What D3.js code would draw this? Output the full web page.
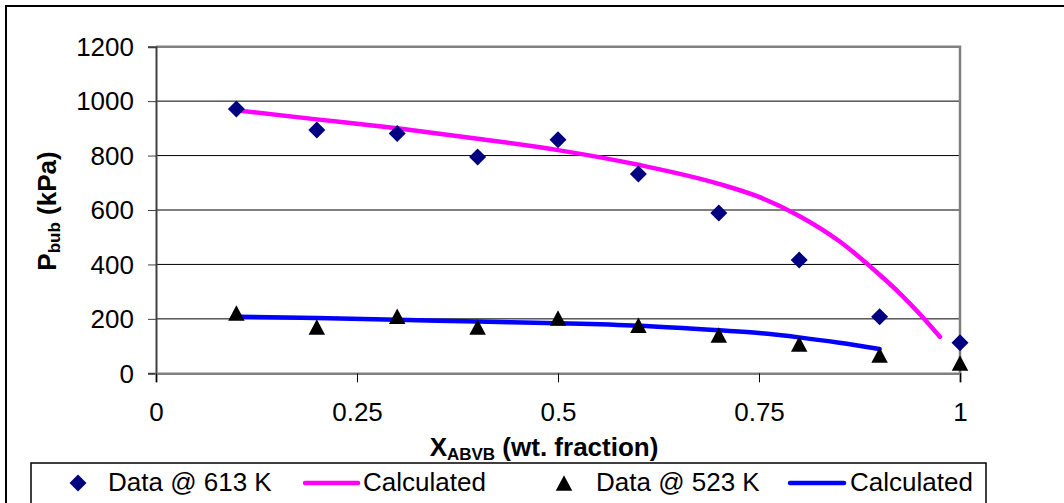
<!DOCTYPE html>
<html>
<head>
<meta charset="utf-8">
<script src="https://cdn.jsdelivr.net/npm/d3@7"></script>
<style>
  body { margin: 0; background: #fff; }
  svg { display: block; font-family: "Liberation Sans", Arial, sans-serif; }
</style>
</head>
<body>
<svg id="chart" width="1064" height="503"></svg>
<script>
// measured points
const xData = [0.1, 0.2, 0.3, 0.4, 0.5, 0.6, 0.7, 0.8, 0.9, 1.0];
const data613 = [971, 894, 881, 795, 858, 732, 589, 416, 208, 112];
const data523 = [222, 170, 210, 170, 203, 177, 141, 108, 67, 38];

// calculated curves
const xCalc613 = [0.1, 0.2, 0.3, 0.4, 0.5, 0.6, 0.7, 0.75, 0.8, 0.85, 0.9, 0.925, 0.95, 0.975];
const calc613 = [966, 933, 900, 862, 820, 766, 696, 648, 578, 485, 362, 294, 218, 134];
const xCalc523 = [0.1, 0.2, 0.3, 0.4, 0.5, 0.6, 0.7, 0.75, 0.8, 0.85, 0.9];
const calc523 = [208, 203, 197, 190, 184, 175, 158, 148, 132, 112, 89];

const xTicks = [0, 0.25, 0.5, 0.75, 1];
const yTicks = [0, 200, 400, 600, 800, 1000, 1200];

const svg = d3.select("#chart");

const plotL = 156, plotR = 960, plotT = 46.7, plotB = 373.3;
const x = d3.scaleLinear().domain([0, 1]).range([plotL, plotR]);
const y = d3.scaleLinear().domain([0, 1200]).range([plotB, plotT]);

// outer chart border
svg.append("rect").attr("x", 6).attr("y", 6).attr("width", 1070).attr("height", 520)
  .attr("fill", "none").attr("stroke", "#000").attr("stroke-width", 2);

// gridlines
svg.append("g").selectAll("line").data(yTicks.filter(d => d > 0 && d < 1200)).join("line")
  .attr("x1", plotL).attr("x2", plotR)
  .attr("y1", d => y(d)).attr("y2", d => y(d))
  .attr("stroke", "#000").attr("stroke-width", 1);

// plot frame (top + right) in grey
svg.append("path")
  .attr("d", "M" + plotL + "," + y(1200) + "H" + plotR + "V" + plotB)
  .attr("fill", "none").attr("stroke", "#808080").attr("stroke-width", 2.5);

// y axis
const yAxis = d3.axisLeft(y).tickValues(yTicks).tickSize(8).tickPadding(14).tickFormat(d3.format("d"));
const gy = svg.append("g").attr("transform", "translate(" + plotL + ",0)").call(yAxis);
gy.select(".domain").attr("stroke", "#404040").attr("stroke-width", 2);
gy.selectAll(".tick line").attr("stroke", "#404040").attr("stroke-width", 1);
gy.selectAll(".tick text").attr("font-size", 26).attr("fill", "#000")
  .attr("font-family", "Liberation Sans, Arial, sans-serif").attr("dy", "0.34em");

// x axis
const xAxis = d3.axisBottom(x).tickValues(xTicks).tickSize(9).tickPadding(24).tickFormat(d => String(d));
const gx = svg.append("g").attr("transform", "translate(0," + plotB + ")").call(xAxis);
gx.select(".domain").attr("stroke", "#808080").attr("stroke-width", 2.5);
gx.selectAll(".tick line").attr("stroke", "#000").attr("stroke-width", 1);
gx.selectAll(".tick text").attr("font-size", 26).attr("fill", "#000")
  .attr("font-family", "Liberation Sans, Arial, sans-serif").attr("dy", "0");
gx.selectAll(".tick text").attr("y", 48);

// calculated lines
const line = d3.line().x(d => x(d[0])).y(d => y(d[1])).curve(d3.curveMonotoneX);
svg.append("path").datum(d3.zip(xCalc613, calc613)).attr("d", line)
  .attr("fill", "none").attr("stroke", "#ff00ff").attr("stroke-width", 4.5).attr("stroke-linecap", "round");
svg.append("path").datum(d3.zip(xCalc523, calc523)).attr("d", line)
  .attr("fill", "none").attr("stroke", "#0000ff").attr("stroke-width", 4.5).attr("stroke-linecap", "round");

function diamond(r) { return "M0," + (-r) + "L" + r + ",0L0," + r + "L" + (-r) + ",0Z"; }
function triangle(w, h) { return "M0," + (-h / 2) + "L" + (w / 2) + "," + (h / 2) + "L" + (-w / 2) + "," + (h / 2) + "Z"; }

svg.append("g").selectAll("path").data(d3.zip(xData, data613)).join("path")
  .attr("d", diamond(8.5))
  .attr("transform", d => "translate(" + x(d[0]) + "," + y(d[1]) + ")")
  .attr("fill", "#000080");

svg.append("g").selectAll("path").data(d3.zip(xData, data523)).join("path")
  .attr("d", triangle(16.5, 15.5))
  .attr("transform", d => "translate(" + x(d[0]) + "," + y(d[1]) + ")")
  .attr("fill", "#000");

// axis titles
const xt = svg.append("text").attr("x", 544).attr("y", 456).attr("text-anchor", "middle")
  .attr("font-size", 26).attr("font-weight", "bold");
xt.append("tspan").text("X");
xt.append("tspan").attr("font-size", 17).attr("dy", 4).text("ABVB");
xt.append("tspan").attr("dy", -4).text(" (wt. fraction)");

const yt = svg.append("text").attr("transform", "translate(56,211) rotate(-90)").attr("text-anchor", "middle")
  .attr("font-size", 26).attr("font-weight", "bold");
yt.append("tspan").text("P");
yt.append("tspan").attr("font-size", 17).attr("dy", 4).text("bub");
yt.append("tspan").attr("dy", -4).text(" (kPa)");

// legend
const legend = svg.append("g");
legend.append("rect").attr("x", 31).attr("y", 463).attr("width", 955).attr("height", 60)
  .attr("fill", "#fff").attr("stroke", "#000").attr("stroke-width", 1.5);
const ly = 483;
legend.append("path").attr("d", diamond(8.5)).attr("transform", "translate(78," + ly + ")").attr("fill", "#000080");
legend.append("text").attr("x", 108).attr("y", ly + 8).attr("font-size", 26).text("Data @ 613 K");
legend.append("line").attr("x1", 305).attr("x2", 358).attr("y1", ly).attr("y2", ly)
  .attr("stroke", "#ff00ff").attr("stroke-width", 4.5).attr("stroke-linecap", "round");
legend.append("text").attr("x", 363).attr("y", ly + 8).attr("font-size", 26).text("Calculated");
legend.append("path").attr("d", triangle(16.5, 15.5)).attr("transform", "translate(564," + ly + ")").attr("fill", "#000");
legend.append("text").attr("x", 596).attr("y", ly + 8).attr("font-size", 26).text("Data @ 523 K");
legend.append("line").attr("x1", 790).attr("x2", 844).attr("y1", ly).attr("y2", ly)
  .attr("stroke", "#0000ff").attr("stroke-width", 4.5).attr("stroke-linecap", "round");
legend.append("text").attr("x", 850).attr("y", ly + 8).attr("font-size", 26).text("Calculated");
</script>
</body>
</html>
